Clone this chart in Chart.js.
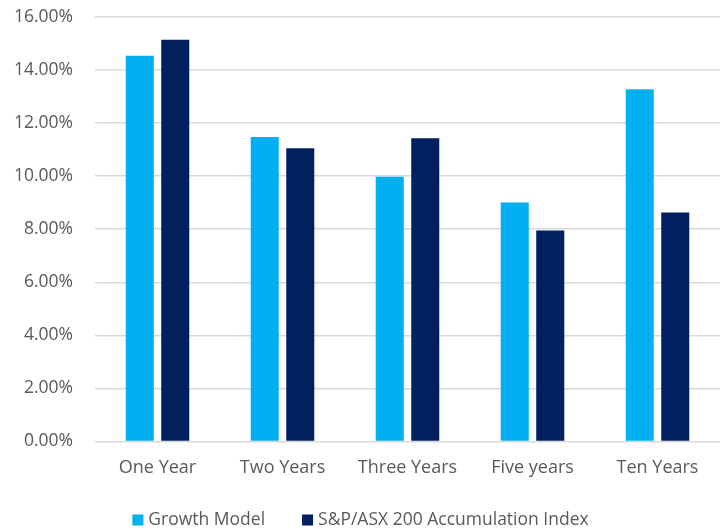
<!DOCTYPE html>
<html>
<head>
<meta charset="utf-8">
<script src="https://cdn.jsdelivr.net/npm/chart.js@4/dist/chart.umd.min.js"></script>
<style>
  html, body { margin: 0; padding: 0; background: #ffffff; }
  #wrap { width: 721px; height: 529px; position: relative; }
</style>
</head>
<body>
<div id="wrap"><canvas id="chart"></canvas></div>
<script>
// Annualised returns by period (%)
const periods = ['One Year', 'Two Years', 'Three Years', 'Five years', 'Ten Years'];
const growthModel = [14.54, 11.48, 9.98, 9.01, 13.28];
const asx200Index = [15.14, 11.05, 11.43, 7.95, 8.63];
const seriesNames = ['Growth Model', 'S&P/ASX 200 Accumulation Index'];

const textColor = '#595959';
const fontFamily = '"Open Sans", "Liberation Sans", sans-serif';

// Legend drawn along the bottom edge: square swatch, short gap, label
const bottomLegend = {
  id: 'bottomLegend',
  afterDraw(chart) {
    const ctx = chart.ctx;
    const box = 11, gapText = 5, gapItem = 37;
    ctx.save();
    ctx.font = '17.5px ' + fontFamily;
    ctx.textBaseline = 'middle';
    const items = chart.data.datasets.map(ds => ({
      text: ds.label, color: ds.backgroundColor, w: ctx.measureText(ds.label).width
    }));
    const total = items.reduce((s, it) => s + box + gapText + it.w, 0) + gapItem * (items.length - 1);
    let x = (chart.width - total) / 2;
    const cy = chart.height - 9;
    items.forEach(it => {
      ctx.fillStyle = it.color;
      ctx.fillRect(x, cy - box / 2, box, box);
      x += box + gapText;
      ctx.fillStyle = textColor;
      ctx.textAlign = 'left';
      ctx.fillText(it.text, x, cy);
      x += it.w + gapItem;
    });
    ctx.restore();
  }
};

new Chart(document.getElementById('chart'), {
  type: 'bar',
  data: {
    labels: periods,
    datasets: [
      { label: seriesNames[0], data: growthModel, backgroundColor: '#00B0F0' },
      { label: seriesNames[1], data: asx200Index, backgroundColor: '#002060' }
    ]
  },
  plugins: [bottomLegend],
  options: {
    responsive: true,
    maintainAspectRatio: false,
    animation: false,
    devicePixelRatio: 1,
    layout: { padding: { left: 0, right: 1, top: 17, bottom: 34 } },
    datasets: { bar: { categoryPercentage: 0.568, barPercentage: 0.79 } },
    scales: {
      x: {
        grid: { display: false, drawTicks: false },
        border: { display: false },
        ticks: { color: textColor, font: { family: fontFamily, size: 18 }, padding: 16 }
      },
      y: {
        min: 0,
        max: 16,
        afterFit: (scale) => { scale.width = 95; scale.paddingTop = 0; scale.paddingBottom = 0; },
        grid: { color: '#D9D9D9', lineWidth: 1.5, drawTicks: false },
        border: { display: false },
        ticks: {
          stepSize: 2,
          color: textColor,
          padding: 22,
          font: { family: fontFamily, size: 17.5 },
          callback: (v) => v.toFixed(2) + '%'
        }
      }
    },
    plugins: {
      tooltip: { enabled: false },
      legend: { display: false }
    }
  }
});
</script>
</body>
</html>
